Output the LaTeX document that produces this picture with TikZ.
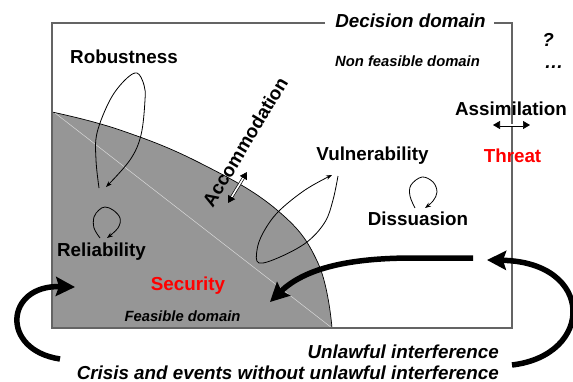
\documentclass[tikz,border=0pt]{standalone}
\usepackage{fontspec}
\setmainfont{Liberation Sans}
\usetikzlibrary{arrows.meta}
\definecolor{shadegray}{RGB}{150,150,150}
\definecolor{framegray}{RGB}{100,100,100}
\begin{document}
\begin{tikzpicture}[x=1pt,y=-1pt,
  lbl/.style={font=\bfseries\fontsize{18.8}{20}\selectfont, inner sep=0pt, anchor=base},
  ilbl/.style={font=\bfseries\itshape\fontsize{18.8}{20}\selectfont, inner sep=0pt, anchor=base},
  slbl/.style={font=\bfseries\itshape\fontsize{14.8}{16}\selectfont, inner sep=0pt, anchor=base},
  loopline/.style={line width=0.8pt, -{Stealth[length=6pt,width=4.5pt]}},
  bigarrow/.style={line width=5.5pt, -{Stealth[length=19pt,width=19pt,inset=3pt]}},
  dblarrow/.style={line width=0.7pt, double distance=1.6pt, {Triangle[length=7pt,width=8pt]}-{Triangle[length=7pt,width=8pt]}},
  frameline/.style={draw=framegray, line width=1.3pt}]
\useasboundingbox (0,0) rectangle (573,381);
% feasible domain
\fill[shadegray] (52,328) -- (52,112) -- plot[smooth,tension=0.7] coordinates {(52,112) (120,130) (200,163) (277,210) (318,263) (332,328)} -- cycle;
\draw[line width=0.7pt] plot[smooth,tension=0.7] coordinates {(52,112) (120,130) (200,163) (277,210) (318,263) (332,328)};
\draw[black!15, line width=0.5pt] (55,113) -- (332,328);
% frame
\draw[frameline] (325,23) -- (52,23) -- (52,328) -- (512,328) -- (512,23) -- (494,23);
% labels
\node[ilbl] (dec) at (410.5,27.3) {Decision domain};
\node[slbl] (nfd) at (407.5,66) {Non feasible domain};
\node[slbl] (fd) at (182.5,321) {Feasible domain};
\node[ilbl] (q) at (548,46.7) {?};
\node[ilbl] (dots) at (554,68) {…};
\node[lbl] (rob) at (124,63.3) {Robustness};
\node[lbl] (vul) at (372.5,160) {Vulnerability};
\node[lbl] (ass) at (511,115) {Assimilation};
\node[lbl, red] (thr) at (512.5,162.3) {Threat};
\node[lbl] (dis) at (418,225.7) {Dissuasion};
\node[lbl] (rel) at (101.5,256) {Reliability};
\node[lbl, red] (sec) at (188,290.7) {Security};
\node[ilbl, anchor=base east] (unl) at (499,358) {Unlawful interference};
\node[ilbl, anchor=base east] (cri) at (499,379) {Crisis and events without unlawful interference};
\node[font=\bfseries\fontsize{18.8}{20}\selectfont, inner sep=0pt, rotate=59] (acc) at (245,142) {Accommodation};
% double arrows
\coordinate (acc1) at (228,203);
\coordinate (acc2) at (247,172);
\draw[dblarrow] (acc1) -- (acc2);
\coordinate (ass1) at (493,125);
\coordinate (ass2) at (530,125);
\draw[dblarrow] (ass1) -- (ass2);
% loops
\draw[loopline] plot[smooth,tension=0.6] coordinates {(99,188) (96,160) (97,133) (110,100) (125,80) (137,73) (144,85) (145,100) (141,135) (130,160) (106,187)};
\draw[loopline] plot[smooth,tension=0.6] coordinates {(100,238) (94,228) (94,217) (99,210) (105,207) (113,210) (120,218) (118,228) (107,238)};
\draw[loopline] plot[smooth,tension=0.6] coordinates {(415,208) (410,196) (411,185) (422,177) (433,182) (437,192) (433,201) (425,208)};
\draw[loopline] plot[smooth,tension=0.6] coordinates {(338,176) (333,200) (325,222) (307,242) (280,257) (259,263) (257,250) (263,233) (278,212) (305,190) (332,175)};
% big arrows
\coordinate (b1s) at (473,258);
\coordinate (b1e) at (270,302);
\draw[bigarrow] (b1s) -- (413,258) .. controls (350,258) and (305,268) .. (b1e);
\coordinate (b2s) at (512,365);
\coordinate (b2e) at (487,260);
\draw[bigarrow] (b2s) .. controls (595,355) and (595,262) .. (b2e);
\coordinate (b3s) at (60,359);
\coordinate (b3e) at (75,287);
\draw[bigarrow] (b3s) .. controls (0,350) and (5,285) .. (b3e);
\end{tikzpicture}
\end{document}
